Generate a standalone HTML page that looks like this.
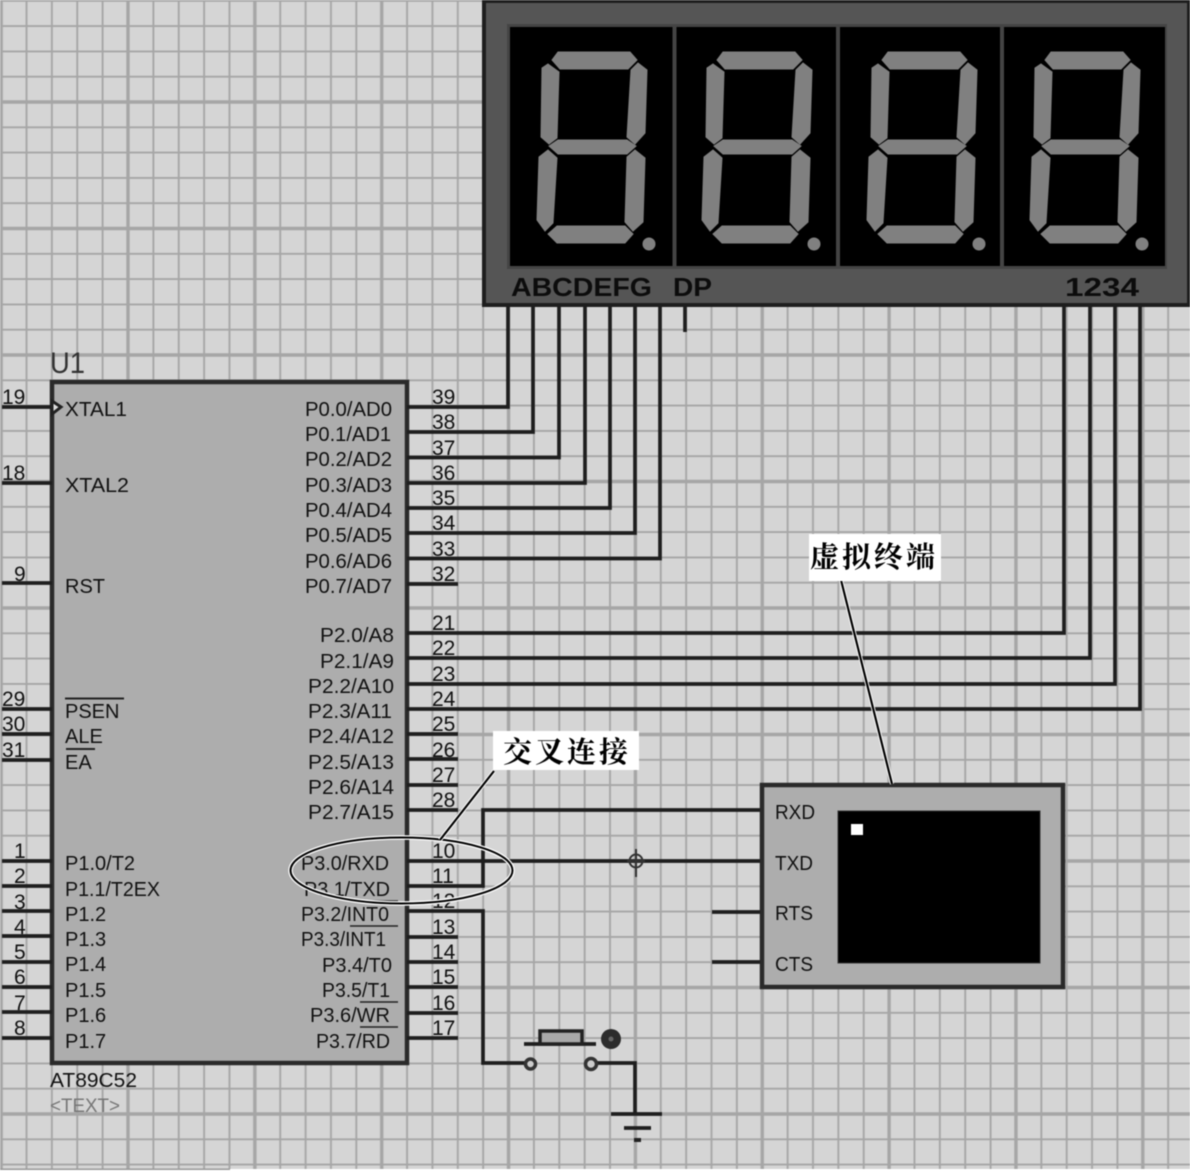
<!DOCTYPE html>
<html><head><meta charset="utf-8"><style>
html,body{margin:0;padding:0;background:#fff}
svg{display:block;filter:blur(0.4px)}
text{font-family:"Liberation Sans",sans-serif;font-size:20px;fill:#111}
.n{font-size:21px}
.e{text-anchor:end}
.b{font-weight:bold;font-size:26px;fill:#0c0c0c}
.c{font-family:"Liberation Serif","Noto Serif CJK SC",serif;font-size:29px;font-weight:bold;fill:#000;letter-spacing:3px}
.w{fill:none;stroke:#1e1e1e;stroke-width:3.700}
</style></head><body>
<svg width="1190" height="1172" viewBox="0 0 1190 1172" xmlns="http://www.w3.org/2000/svg">
<defs>
<pattern id="g" x="1.15" y="-24.5" width="126.85" height="126.5" patternUnits="userSpaceOnUse">
<rect width="126.85" height="126.5" fill="#d5d5d5"/>
<g stroke="#a6a6a6" stroke-width="1.9">
<path d="M25.37 0V126.5M50.74 0V126.5M76.11 0V126.5M101.48 0V126.5M0 25.3H126.85M0 50.6H126.85M0 75.9H126.85M0 101.2H126.85"/>
</g>
<g stroke="#a6a6a6" stroke-width="3.4"><path d="M0 0V126.5M126.85 0V126.5M0 0H126.85M0 126.5H126.85"/></g>
</pattern>
<g id="d" fill="#808080" stroke="#808080" stroke-width="1">
<polygon points="552,60 558,52 630,52 637,60 628,69 560,69"/>
<polygon points="548,64 559,72 557,138 549,144 541,137 542,68"/>
<polygon points="638,63 647,70 645,133 635,144 627,137 631,70"/>
<polygon points="549,146 558,140 627,140 636,146 627,154 558,154"/>
<polygon points="548,150 557,158 553,223 545,231 537,220 539,157"/>
<polygon points="635,150 645,158 643,222 633,231 625,222 627,157"/>
<polygon points="548,234 557,226 625,226 633,234 625,243 557,243"/>
<circle cx="649" cy="244" r="6"/>
</g>
</defs>
<rect width="1190" height="1169" fill="url(#g)"/>
<rect x="0" y="1168.500" width="230" height="1.500" fill="#999"/>

<!-- display -->
<rect x="484" y="1" width="705" height="304" fill="#555" stroke="#1e1e1e" stroke-width="4"/>
<rect x="507" y="24" width="660" height="245" fill="#444"/>
<rect x="510" y="27" width="655" height="239" fill="#000"/>
<rect x="672.5" y="27" width="4" height="239" fill="#444"/>
<rect x="836" y="27" width="4" height="239" fill="#444"/>
<rect x="1000" y="27" width="4" height="239" fill="#444"/>
<use href="#d"/><use href="#d" x="165"/><use href="#d" x="330"/><use href="#d" x="493"/>
<text class="b" x="511" y="296" textLength="141" lengthAdjust="spacingAndGlyphs">ABCDEFG</text>
<text class="b" x="673" y="296" textLength="39" lengthAdjust="spacingAndGlyphs">DP</text>
<text class="b" x="1065" y="296" textLength="74" lengthAdjust="spacingAndGlyphs">1234</text>

<!-- chip -->
<rect x="52" y="382" width="355" height="681" fill="#adadad" stroke="#2a2a2a" stroke-width="4.500"/>

<!-- left pins -->
<path class="w" d="M2 407H52M2 483H52M2 583H52M2 709H52M2 734H52M2 760H52M2 861H52M2 886H52M2 911H52M2 936H52M2 962H52M2 987H52M2 1012H52M2 1038H52"/>
<polygon points="52,401 61,407 52,414" fill="#ddd" stroke="#222" stroke-width="3"/>

<!-- right pins & wires -->
<path class="w" d="M407 407H508V306M407 432H533V306M407 457.500H559V306M407 483H585V306M407 508H610V306M407 533H635V306M407 558.500H660V306M407 584H458M685 306V332"/>
<path class="w" d="M407 633H1064V306M407 658H1090V306M407 684H1115V306M407 709H1140V306"/>
<path class="w" d="M407 734H458M407 759H458M407 785H458M407 810H458M407 937H458M407 962H458M407 987H458M407 1013H458M407 1038H458"/>
<path class="w" d="M761 810H483V886H407M407 861H761"/>
<path class="w" d="M407 911H483V1063H525M596 1063H635V1114"/>
<circle cx="636" cy="861" r="6.500" fill="none" stroke="#333" stroke-width="2"/>
<path d="M636 849V877M627 861H645" stroke="#333" stroke-width="2" fill="none"/>

<!-- switch -->
<path class="w" d="M524 1044H596"/>
<rect x="540" y="1031" width="42" height="13" fill="#a9a9a9" stroke="#222" stroke-width="3.500"/>
<circle cx="530.500" cy="1064" r="5" fill="#ccc" stroke="#333" stroke-width="3.500"/>
<circle cx="591" cy="1064" r="5.500" fill="#ccc" stroke="#333" stroke-width="3.500"/>
<circle cx="611" cy="1039" r="10" fill="#2c2c2c"/>
<circle cx="611" cy="1039" r="2.500" fill="#666"/>
<path class="w" d="M611 1114H662M624 1128H651" />
<rect x="634" y="1138" width="7" height="4" fill="#222"/>

<!-- left labels -->
<g class="nn">
<text class="n" x="2" y="404">19</text><text class="n" x="2" y="480">18</text>
<text class="n" x="14" y="581">9</text><text class="n" x="2" y="706">29</text><text class="n" x="2" y="731">30</text><text class="n" x="2" y="757">31</text>
<text class="n" x="14" y="858">1</text><text class="n" x="14" y="883">2</text><text class="n" x="14" y="909">3</text><text class="n" x="14" y="934">4</text>
<text class="n" x="14" y="959">5</text><text class="n" x="14" y="984">6</text><text class="n" x="14" y="1010">7</text><text class="n" x="14" y="1035">8</text>
</g>

<text x="65" y="416" textLength="62" lengthAdjust="spacingAndGlyphs">XTAL1</text><text x="65" y="492" textLength="64" lengthAdjust="spacingAndGlyphs">XTAL2</text><text x="65" y="593">RST</text>
<text x="65" y="718">PSEN</text><text x="65" y="743">ALE</text><text x="65" y="769">EA</text>
<path d="M65 698.500H124M66 749H95" stroke="#222" stroke-width="2"/>
<text x="65" y="870">P1.0/T2</text><text x="65" y="896" textLength="95" lengthAdjust="spacingAndGlyphs">P1.1/T2EX</text><text x="65" y="921">P1.2</text><text x="65" y="946">P1.3</text>
<text x="65" y="971">P1.4</text><text x="65" y="997">P1.5</text><text x="65" y="1022">P1.6</text><text x="65" y="1048">P1.7</text>

<text x="50" y="373" style="font-size:30px;fill:#333" textLength="35" lengthAdjust="spacingAndGlyphs">U1</text>
<text x="50" y="1087" textLength="87" lengthAdjust="spacingAndGlyphs">AT89C52</text>
<text x="50" y="1112" style="fill:#777;font-size:19px" textLength="70" lengthAdjust="spacingAndGlyphs">&lt;TEXT&gt;</text>

<!-- right labels -->
<text x="305" y="416" textLength="87" lengthAdjust="spacingAndGlyphs">P0.0/AD0</text><text x="305" y="441" textLength="86" lengthAdjust="spacingAndGlyphs">P0.1/AD1</text>
<text x="305" y="466" textLength="87" lengthAdjust="spacingAndGlyphs">P0.2/AD2</text><text x="305" y="492" textLength="87" lengthAdjust="spacingAndGlyphs">P0.3/AD3</text>
<text x="305" y="517" textLength="87" lengthAdjust="spacingAndGlyphs">P0.4/AD4</text><text x="305" y="542" textLength="87" lengthAdjust="spacingAndGlyphs">P0.5/AD5</text>
<text x="305" y="568" textLength="87" lengthAdjust="spacingAndGlyphs">P0.6/AD6</text><text x="305" y="593" textLength="87" lengthAdjust="spacingAndGlyphs">P0.7/AD7</text>
<text x="320" y="642" textLength="74" lengthAdjust="spacingAndGlyphs">P2.0/A8</text><text x="320" y="668" textLength="74" lengthAdjust="spacingAndGlyphs">P2.1/A9</text>
<text x="308" y="693" textLength="86" lengthAdjust="spacingAndGlyphs">P2.2/A10</text><text x="308" y="718" textLength="84" lengthAdjust="spacingAndGlyphs">P2.3/A11</text>
<text x="308" y="743" textLength="86" lengthAdjust="spacingAndGlyphs">P2.4/A12</text><text x="308" y="769" textLength="86" lengthAdjust="spacingAndGlyphs">P2.5/A13</text>
<text x="308" y="794" textLength="86" lengthAdjust="spacingAndGlyphs">P2.6/A14</text><text x="308" y="819" textLength="86" lengthAdjust="spacingAndGlyphs">P2.7/A15</text>
<text x="301" y="870" textLength="88" lengthAdjust="spacingAndGlyphs">P3.0/RXD</text><text x="304" y="896" textLength="86" lengthAdjust="spacingAndGlyphs">P3.1/TXD</text>
<text x="301" y="921" textLength="88" lengthAdjust="spacingAndGlyphs">P3.2/INT0</text><text x="301" y="946" textLength="85" lengthAdjust="spacingAndGlyphs">P3.3/INT1</text>
<text x="322" y="972" textLength="70" lengthAdjust="spacingAndGlyphs">P3.4/T0</text><text x="322" y="997" textLength="68" lengthAdjust="spacingAndGlyphs">P3.5/T1</text>
<text x="310" y="1022" textLength="80" lengthAdjust="spacingAndGlyphs">P3.6/WR</text><text x="316" y="1048" textLength="74" lengthAdjust="spacingAndGlyphs">P3.7/RD</text>
<path d="M360 901H398M350 926H398M360 1002H398M360 1027H398" stroke="#222" stroke-width="1.500"/>

<!-- pin numbers -->
<text class="n" x="432" y="404">39</text><text class="n" x="432" y="429">38</text><text class="n" x="432" y="455">37</text><text class="n" x="432" y="480">36</text>
<text class="n" x="432" y="505">35</text><text class="n" x="432" y="530">34</text><text class="n" x="432" y="556">33</text><text class="n" x="432" y="581">32</text>
<text class="n" x="432" y="630">21</text><text class="n" x="432" y="655">22</text><text class="n" x="432" y="681">23</text><text class="n" x="432" y="706">24</text>
<text class="n" x="432" y="731">25</text><text class="n" x="432" y="757">26</text><text class="n" x="432" y="782">27</text><text class="n" x="432" y="807">28</text>
<text class="n" x="432" y="858">10</text><text class="n" x="432" y="883">11</text><text class="n" x="432" y="908">12</text><text class="n" x="432" y="934">13</text>
<text class="n" x="432" y="959">14</text><text class="n" x="432" y="984">15</text><text class="n" x="432" y="1010">16</text><text class="n" x="432" y="1035">17</text>

<!-- terminal -->
<path class="w" d="M712 912H761M712 962H761"/>
<rect x="762" y="785" width="301" height="202" fill="#adadad" stroke="#2a2a2a" stroke-width="4.500"/>
<rect x="838" y="811" width="202" height="152" fill="#000" stroke="#333" stroke-width="1"/>
<rect x="851" y="824" width="12" height="11" fill="#fff"/>
<text x="775" y="819" textLength="40" lengthAdjust="spacingAndGlyphs">RXD</text><text x="775" y="870" textLength="38" lengthAdjust="spacingAndGlyphs">TXD</text>
<text x="775" y="920" textLength="38" lengthAdjust="spacingAndGlyphs">RTS</text><text x="775" y="971" textLength="38" lengthAdjust="spacingAndGlyphs">CTS</text>

<!-- callouts -->
<ellipse cx="401.500" cy="870.500" rx="111" ry="33" fill="none" stroke="#fff" stroke-width="4.500"/>
<ellipse cx="401.500" cy="870.500" rx="111" ry="33" fill="none" stroke="#000" stroke-width="2"/>
<path d="M440 840L494 771" stroke="#fff" stroke-width="4" fill="none"/>
<path d="M440 840L494 771" stroke="#000" stroke-width="2.200" fill="none"/>
<rect x="493" y="731" width="146" height="39" fill="#fff"/>
<text class="c" x="503" y="762">交叉连接</text>
<path d="M841 580L892 784" stroke="#fff" stroke-width="4" fill="none"/>
<path d="M841 580L892 784" stroke="#000" stroke-width="2.200" fill="none"/>
<rect x="809" y="534" width="132" height="47" fill="#fff"/>
<text class="c" x="810" y="567">虚拟终端</text>
</svg>
</body></html>
